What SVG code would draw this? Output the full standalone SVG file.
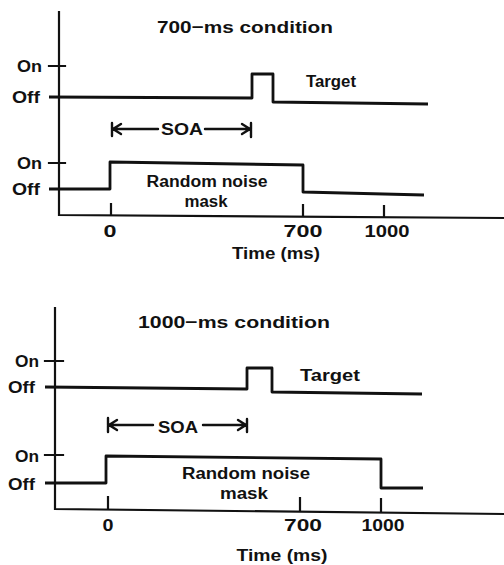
<svg xmlns="http://www.w3.org/2000/svg" width="504" height="565" viewBox="0 0 504 565">
<style>
text{font-family:"Liberation Sans",Arial,sans-serif;font-weight:bold;font-size:17px;fill:#111}
.lbl{font-size:16px}
.ax{stroke:#111;stroke-width:2.2;fill:none;stroke-linecap:square}
.sig{stroke:#111;stroke-width:2.8;fill:none;stroke-linejoin:round}
.arr{stroke:#111;stroke-width:2.4;fill:none;stroke-linecap:round;stroke-linejoin:miter}
.mid{text-anchor:middle}
</style>
<rect width="504" height="565" fill="#fff"/>

<g id="panel-700">
  <text class="mid" x="245" y="33" textLength="176" lengthAdjust="spacingAndGlyphs">700−ms condition</text>
  <g id="axes-700">
    <path class="ax" d="M59,12 L59,215 L504,218"/>
    <path class="ax" d="M49,66 L65,66 M49,163 L65,163"/>
    <path class="ax" d="M111,204 L111,215 M303,205 L303,216 M384,206 L384,217"/>
  </g>
  <text x="17" y="72" textLength="25" lengthAdjust="spacingAndGlyphs">On</text>
  <text x="12" y="103" textLength="28" lengthAdjust="spacingAndGlyphs">Off</text>
  <text x="17" y="169" textLength="25" lengthAdjust="spacingAndGlyphs">On</text>
  <text x="12" y="195" textLength="28" lengthAdjust="spacingAndGlyphs">Off</text>
  <g id="target-700">
    <path class="sig" d="M49,97 L252,98 L252,74 L273,74 L273,102 L428,104"/>
    <text x="306" y="87" textLength="50" lengthAdjust="spacingAndGlyphs">Target</text>
  </g>
  <g id="soa-700">
    <path class="arr" d="M112,123 L112,136 M251,123 L251,137 M112,129 L158,129 M205,129 L251,129 M121,124 L113,129 L121,134 M242,124 L250,129 L242,134"/>
    <text class="mid" x="182" y="135" textLength="42" lengthAdjust="spacingAndGlyphs">SOA</text>
  </g>
  <g id="mask-700">
    <path class="sig" d="M49,189 L110,189 L110,162 L303,165 L303,192 L424,195"/>
    <text class="mid lbl" x="207" y="187" textLength="121" lengthAdjust="spacingAndGlyphs">Random noise</text>
    <text class="mid lbl" x="206" y="207" textLength="43" lengthAdjust="spacingAndGlyphs">mask</text>
  </g>
  <text class="mid" x="110" y="237" textLength="13" lengthAdjust="spacingAndGlyphs">0</text>
  <text class="mid" x="303" y="237" textLength="39" lengthAdjust="spacingAndGlyphs">700</text>
  <text class="mid" x="387" y="237" textLength="45" lengthAdjust="spacingAndGlyphs">1000</text>
  <text class="mid" x="276" y="259" textLength="88" lengthAdjust="spacingAndGlyphs">Time (ms)</text>
</g>

<g id="panel-1000">
  <text class="mid" x="234" y="328" textLength="192" lengthAdjust="spacingAndGlyphs">1000−ms condition</text>
  <g id="axes-1000">
    <path class="ax" d="M55,308 L55,509 L504,514"/>
    <path class="ax" d="M45,361 L63,361 M45,455 L63,455"/>
    <path class="ax" d="M108,497 L108,509 M300,498 L300,511 M381,499 L381,512"/>
  </g>
  <text x="15" y="367" textLength="24" lengthAdjust="spacingAndGlyphs">On</text>
  <text x="8" y="393" textLength="27" lengthAdjust="spacingAndGlyphs">Off</text>
  <text x="15" y="462" textLength="24" lengthAdjust="spacingAndGlyphs">On</text>
  <text x="8" y="490" textLength="27" lengthAdjust="spacingAndGlyphs">Off</text>
  <g id="target-1000">
    <path class="sig" d="M45,387 L247,389 L247,368 L272,368 L272,392 L422,394"/>
    <text x="300" y="381" textLength="60" lengthAdjust="spacingAndGlyphs">Target</text>
  </g>
  <g id="soa-1000">
    <path class="arr" d="M108,418 L108,432 M247,419 L247,432 M108,425 L153,425 M203,425 L247,425 M117,420 L109,425 L117,430 M238,420 L246,425 L238,430"/>
    <text class="mid" x="178" y="433" textLength="40" lengthAdjust="spacingAndGlyphs">SOA</text>
  </g>
  <g id="mask-1000">
    <path class="sig" d="M45,483 L106,483 L106,456 L381,459 L381,488 L423,488"/>
    <text class="mid lbl" x="246" y="479" textLength="128" lengthAdjust="spacingAndGlyphs">Random noise</text>
    <text class="mid lbl" x="244" y="499" textLength="48" lengthAdjust="spacingAndGlyphs">mask</text>
  </g>
  <text class="mid" x="108" y="531" textLength="11" lengthAdjust="spacingAndGlyphs">0</text>
  <text class="mid" x="303" y="531" textLength="38" lengthAdjust="spacingAndGlyphs">700</text>
  <text class="mid" x="383" y="531" textLength="43" lengthAdjust="spacingAndGlyphs">1000</text>
  <text class="mid" x="282" y="561" textLength="91" lengthAdjust="spacingAndGlyphs">Time (ms)</text>
</g>
</svg>
